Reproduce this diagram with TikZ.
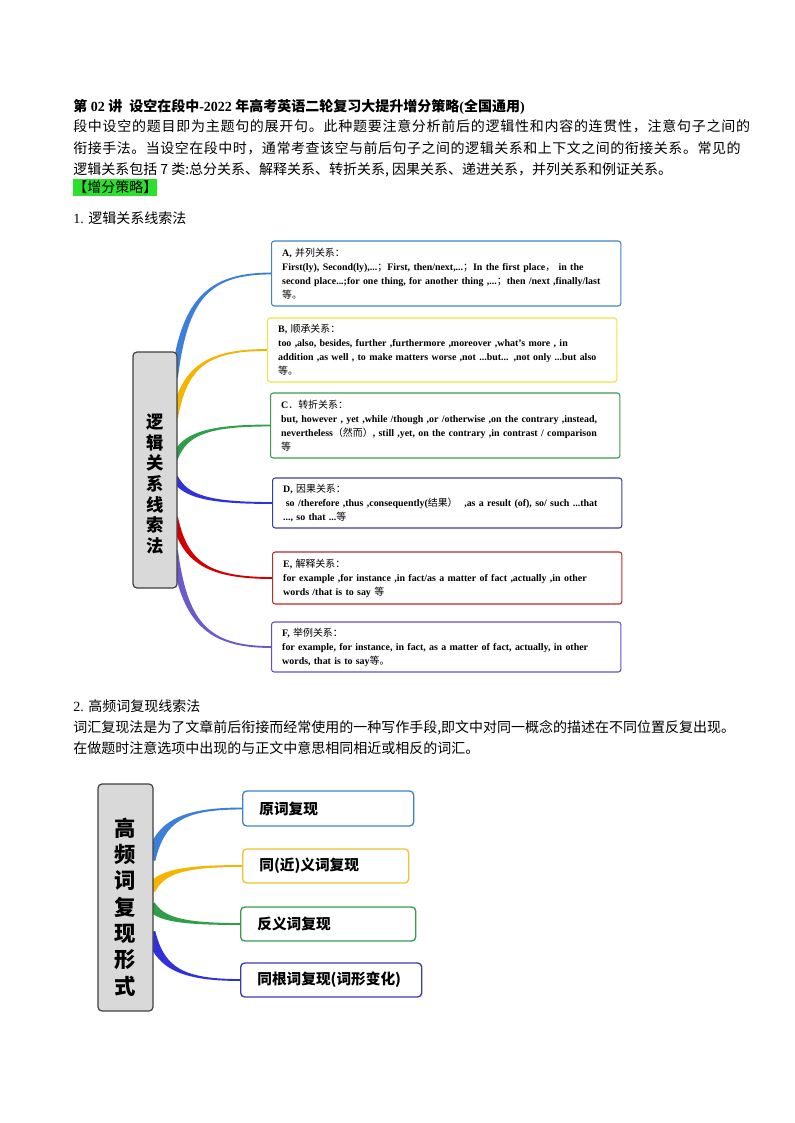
\documentclass[tikz,border=0pt]{standalone}
\usepackage{fontspec}
\setmainfont{Liberation Serif}
\newfontfamily\cjk{Noto Sans CJK SC}
\newfontfamily\cjkwideA[LetterSpace=5.2]{Noto Sans CJK SC}
\newfontfamily\cjkwideB[LetterSpace=3.7]{Noto Sans CJK SC}
\usepackage{xcolor}
\usepackage{tikz}
\usetikzlibrary{calc,backgrounds}

\definecolor{brBlue}{HTML}{3C7FDB}
\definecolor{brYellow}{HTML}{F4B400}
\definecolor{brGreen}{HTML}{2E9E48}
\definecolor{brIndigo}{HTML}{3030DD}
\definecolor{brRed}{HTML}{D40000}
\definecolor{brPurple}{HTML}{6A5ACD}
\definecolor{bdBlue}{HTML}{3D85C6}
\definecolor{bdYellow}{HTML}{F2E23C}
\definecolor{bdGreen}{HTML}{3C9A50}
\definecolor{bdIndigo}{HTML}{3B3BAE}
\definecolor{bdRed}{HTML}{C0282A}
\definecolor{bdPurple}{HTML}{5B50D0}
\definecolor{bdGold}{HTML}{F1C232}
\definecolor{hubGray}{HTML}{D9D9D9}
\definecolor{hiGreen}{HTML}{2EE02E}

% Chinese words inside the English boxes
\newcommand{\zh}[1]{{\cjk\mdseries #1}}
% tapered mind-map branch: colour, hub, fraction down the hub, target box, half start width
\newcommand{\mmbranch}[5]{%
  \coordinate (mmS) at ($(#2.north east)!#3!(#2.south east)+(-3,0)$);
  \path let \p1=(mmS), \p2=(#4.west) in
    coordinate (mmA) at (\x1+0.1*\x2-0.1*\x1, \y1+0.75*\y2-0.75*\y1)
    coordinate (mmB) at (\x1+0.35*\x2-0.35*\x1, \y2);
  \fill[#1] ($(mmS)!#5!90:(mmA)$) .. controls ($(mmA)!#5!-90:(mmS)$) and ($(mmB)!0.7pt!90:(#4.west)$) .. ($(#4.west)!0.7pt!-90:(mmB)$)
    -- ($(#4.west)!0.7pt!90:(mmB)$) .. controls ($(mmB)!0.7pt!-90:(#4.west)$) and ($(mmA)!#5!90:(mmS)$) .. ($(mmS)!#5!-90:(mmA)$) -- cycle;
}

\begin{document}
\begin{tikzpicture}[
    x=0.75pt, y=-0.75pt,
    line/.style={anchor=base west, inner sep=0pt, font=\cjk\fontsize{10.5}{13}\selectfont},
    hub/.style={draw=black!75, fill=hubGray, rounded corners=3pt, line width=0.9pt},
    hubtxt/.style={align=center, inner sep=0pt, font=\cjk\bfseries\fontsize{13}{15.5}\selectfont},
    relbox/.style={draw=#1, fill=white, rounded corners=2pt, line width=0.8pt, anchor=west, minimum width=262pt, text width=246pt, inner xsep=8pt, align=left, font=\bfseries\fontsize{7.45}{10.5}\selectfont, execute at begin node={\hyphenpenalty=10000 \exhyphenpenalty=10000 }},
    wordbox/.style={draw=#1, fill=white, rounded corners=3pt, line width=1pt, anchor=west, minimum height=25.5pt, inner xsep=12.5pt, align=left, font=\cjk\bfseries\fontsize{11}{13}\selectfont}
]
\useasboundingbox (0,0) rectangle (794,1123);
\begin{scope}[on background layer]
\fill[white] (0,0) rectangle (794,1123);
\end{scope}

% ===== TEXT =====
\node[line, font=\bfseries\fontsize{10.5}{13}\selectfont] (title) at (73,112) {{\cjk 第} 02 {\cjk 讲}\ \ {\cjk 设空在段中}-2022 {\cjk 年高考英语二轮复习大提升增分策略}({\cjk 全国通用})};
\node[line, font=\cjkwideA\fontsize{10.5}{13}\selectfont] (introA) at (73,132) {段中设空的题目即为主题句的展开句。此种题要注意分析前后的逻辑性和内容的连贯性，注意句子之间的};
\node[line, font=\cjkwideB\fontsize{10.5}{13}\selectfont] (introB) at (73,153.5) {衔接手法。当设空在段中时，通常考查该空与前后句子之间的逻辑关系和上下文之间的衔接关系。常见的};
\node[line] (introC) at (73,175) {逻辑关系包括 7 类:总分关系、解释关系、转折关系, 因果关系、递进关系，并列关系和例证关系。};
\node[line, fill=hiGreen, inner ysep=1.5pt] (tips) at (73,192.5) {【增分策略】};
\node[line, font=\fontsize{10.5}{13}\selectfont] (secA) at (73,223.5) {1. {\cjk 逻辑关系线索法}};

% ===== LOGIC MAP =====
\node[hub, minimum width=33pt, minimum height=177pt] (hubA) at (155,470) {};
\node[hubtxt] (hubAtxt) at ($(hubA.center)+(0,14)$) {逻\\辑\\关\\系\\线\\索\\法};

\node[relbox=bdBlue, minimum height=48.75pt] (boxA) at (271,273.5) {A, \zh{并列关系：}\\First(ly), Second(ly),...\zh{；}First, then/next,...\zh{；}In the first place\zh{，} in the\\second place...;for one thing, for another thing ,...\zh{；}then /next ,finally/last\\\zh{等。}};
\node[relbox=bdYellow, minimum height=48pt] (boxB) at (267,350) {B, \zh{顺承关系：}\\too ,also, besides, further ,furthermore ,moreover ,what’s more , in\\addition ,as well , to make matters worse ,not ...but... ,not only ...but also\\\zh{等。}};
\node[relbox=bdGreen, minimum height=48.75pt] (boxC) at (270,425.5) {C\zh{．转折关系：}\\but, however , yet ,while /though ,or /otherwise ,on the contrary ,instead,\\nevertheless\zh{（然而）}, still ,yet, on the contrary ,in contrast / comparison\\\zh{等}};
\node[relbox=bdIndigo, minimum height=37.5pt] (boxD) at (272,503) {D, \zh{因果关系：}\\\hspace*{2pt}so /therefore ,thus ,consequently(\zh{结果）}\ \ ,as a result (of), so/ such ...that\\..., so that ...\zh{等}};
\node[relbox=bdRed, minimum height=39pt] (boxE) at (272,578) {E, \zh{解释关系：}\\for example ,for instance ,in fact/as a matter of fact ,actually ,in other\\words /that is to say \zh{等}};
\node[relbox=bdPurple, minimum height=37.5pt] (boxF) at (271,647) {F, \zh{举例关系：}\\for example, for instance, in fact, as a matter of fact, actually, in other\\words, that is to say\zh{等。}};

\begin{scope}[on background layer]
\mmbranch{brBlue}{hubA}{0.11}{boxA}{2.5pt}
\mmbranch{brYellow}{hubA}{0.28}{boxB}{2.5pt}
\mmbranch{brGreen}{hubA}{0.45}{boxC}{2.5pt}
\mmbranch{brIndigo}{hubA}{0.53}{boxD}{2.5pt}
\mmbranch{brRed}{hubA}{0.70}{boxE}{2.5pt}
\mmbranch{brPurple}{hubA}{0.84}{boxF}{2.5pt}
\end{scope}

% ===== TEXT =====
\node[line, font=\fontsize{10.5}{13}\selectfont] (secB) at (73,711.5) {2. {\cjk 高频词复现线索法}};
\node[line] (wordA) at (73,732.5) {词汇复现法是为了文章前后衔接而经常使用的一种写作手段,即文中对同一概念的描述在不同位置反复出现。};
\node[line] (wordB) at (73,753.5) {在做题时注意选项中出现的与正文中意思相同相近或相反的词汇。};

% ===== WORD MAP =====
\node[hub, minimum width=41.25pt, minimum height=170.25pt] (hubB) at (125.5,897.5) {};
\node[hubtxt, font=\cjk\bfseries\fontsize{16}{19.7}\selectfont] (hubBtxt) at ($(hubB.center)+(0,9.5)$) {高\\频\\词\\复\\现\\形\\式};

\node[wordbox=bdBlue, minimum width=128.25pt, minimum height=26.25pt, text width=103.25pt] (wordA1) at (242,808.5) {原词复现};
\node[wordbox=bdGold, minimum width=124.5pt, text width=99.5pt] (wordA2) at (242,866) {同(近)义词复现};
\node[wordbox=bdGreen, minimum width=131.25pt, text width=106.25pt] (wordA3) at (240,924) {反义词复现};
\node[wordbox=bdIndigo, minimum width=135.75pt, text width=110.75pt] (wordA4) at (240,980) {同根词复现(词形变化)};

\begin{scope}[on background layer]
\mmbranch{brBlue}{hubB}{0.335}{wordA1}{3.6pt}
\mmbranch{brYellow}{hubB}{0.467}{wordA2}{3.6pt}
\mmbranch{brGreen}{hubB}{0.533}{wordA3}{3.6pt}
\mmbranch{brIndigo}{hubB}{0.652}{wordA4}{3.6pt}
\end{scope}

\end{tikzpicture}
\end{document}
